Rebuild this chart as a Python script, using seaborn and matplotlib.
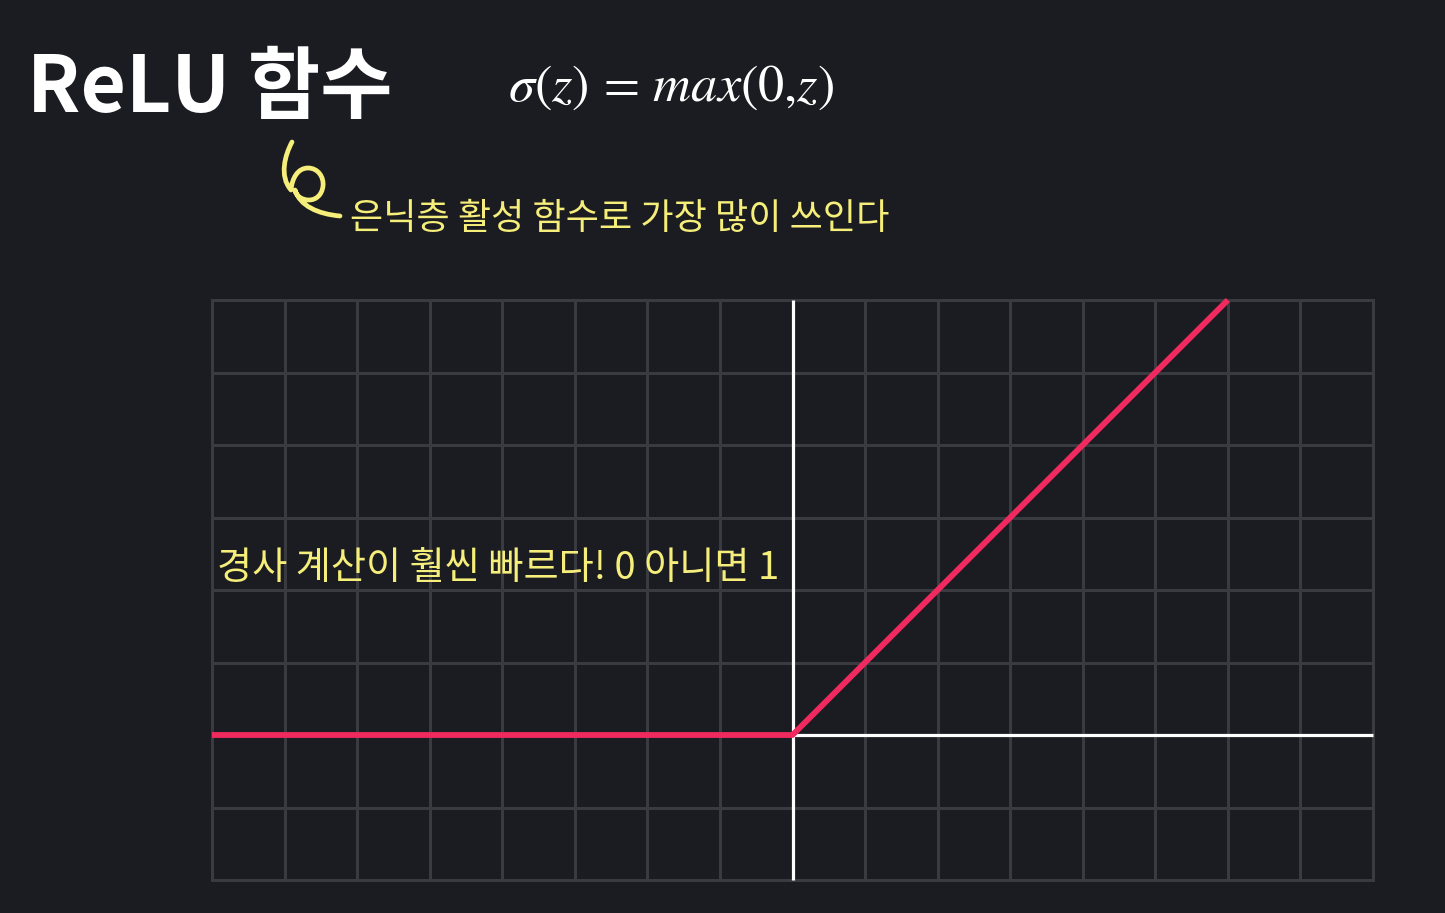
import numpy as np
import pandas as pd
import matplotlib
matplotlib.use("Agg")
import matplotlib.pyplot as plt
from matplotlib.path import Path
from matplotlib.patches import PathPatch
import seaborn as sns

# ---- data ----
relu_x = [-8, 0, 6]
relu_y = [0, 0, 6]
yaxis_x = [0, 0]
yaxis_y = [-2, 6]
xaxis_x = [0, 8]
xaxis_y = [0, 0]
x_ticks = list(range(-8, 9))
y_ticks = list(range(-2, 7))

title_text = "ReLU 함수"
formula_text = r"$\sigma(z)\,=\,max(0{,}z)$"
note_top = "은닉층 활성 함수로 가장 많이 쓰인다"
note_mid = "경사 계산이 훨씬 빠르다! 0 아니면 1"

BG = "#1b1c21"
GRID = "#3a3b40"
RED = "#f02a5e"
YELLOW = "#f6ee7a"

sns.set_theme(style="dark", rc={
    "figure.facecolor": BG,
    "axes.facecolor": BG,
    "axes.edgecolor": GRID,
    "grid.color": GRID,
})
plt.rcParams["font.family"] = ["Noto Sans CJK KR", "DejaVu Sans"]
plt.rcParams["mathtext.fontset"] = "stix"

W, H = 1445, 913
fig = plt.figure(figsize=(W / 100, H / 100), dpi=100)
fig.patch.set_facecolor(BG)
ax = fig.add_axes([212 / W, 1 - 880 / H, (1373 - 212) / W, (880 - 300) / H])
ax.set_facecolor(BG)

ax.set_xlim(-8, 8)
ax.set_ylim(-2, 6)
ax.set_xticks(x_ticks)
ax.set_yticks(y_ticks)
ax.tick_params(length=0, labelbottom=False, labelleft=False)
ax.grid(True, color=GRID, linewidth=2.2)
for s in ax.spines.values():
    s.set_color(GRID)
    s.set_linewidth(2.2)

sns.lineplot(x=xaxis_x, y=xaxis_y, ax=ax, color="white", linewidth=2.3,
             sort=False, estimator=None, zorder=3)
sns.lineplot(x=yaxis_x, y=yaxis_y, ax=ax, color="white", linewidth=2.3,
             sort=False, estimator=None, zorder=3)
sns.lineplot(x=relu_x, y=relu_y, ax=ax, color=RED, linewidth=4.2,
             sort=False, estimator=None, zorder=4)
for ln in ax.lines:
    ln.set_clip_on(False)
    ln.set_solid_capstyle("butt")
    ln.set_solid_joinstyle("round")

ax.text(-7.93, 2.3, note_mid, color=YELLOW, fontsize=27.5, ha="left",
        va="center", fontweight="medium", zorder=5)

# ---- titles ----
fig.text(27 / W, 1 - 89 / H, title_text, color="white", fontsize=56.5,
         fontweight="heavy", ha="left", va="center")
fig.text(508 / W, 1 - 86 / H, formula_text, color="white", fontsize=37.7,
         ha="left", va="center")
fig.text(350 / W, 1 - 219 / H, note_top, color=YELLOW, fontsize=26,
         ha="left", va="center", fontweight="medium")

# ---- hand-drawn curl (decoration) ----
def px(p):
    return (p[0] / W, 1 - p[1] / H)

verts = [(292, 142),
         (285, 155), (279, 176), (291, 190),
         (292, 178), (298, 168), (308, 168),
         (318, 168), (324, 177), (323, 186),
         (322, 195), (316, 200), (309, 200),
         (302, 200), (296, 196), (295, 190),
         (300, 206), (318, 214), (340, 216)]
codes = [Path.MOVETO] + [Path.CURVE4] * (len(verts) - 1)
curl = Path([px(v) for v in verts], codes)
fig.patches.append(PathPatch(curl, transform=fig.transFigure, facecolor="none",
                             edgecolor=YELLOW, linewidth=3.4, capstyle="round",
                             joinstyle="round"))

fig.savefig("out.png", dpi=100, facecolor=BG)
